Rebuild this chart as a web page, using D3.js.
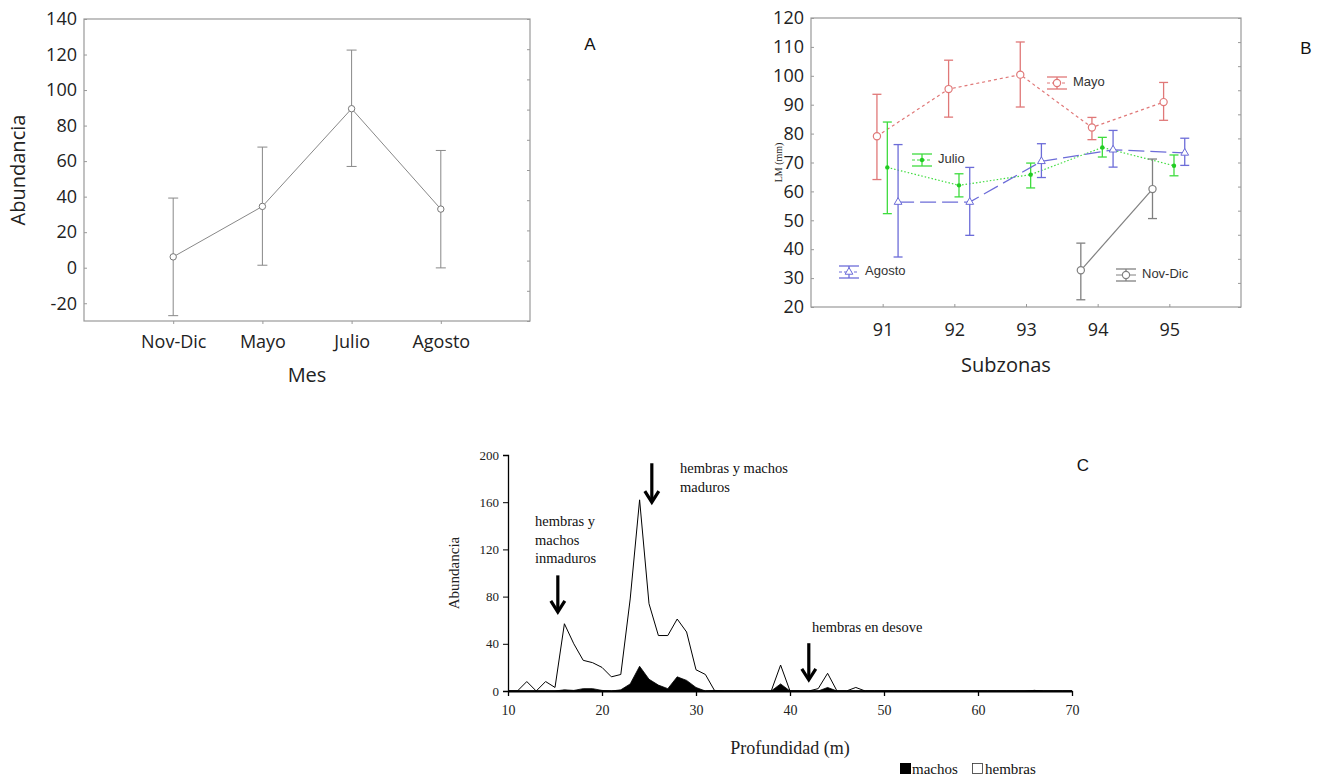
<!DOCTYPE html>
<html><head><meta charset="utf-8">
<script src="https://cdn.jsdelivr.net/npm/d3@7"></script>
<style>body{margin:0;background:#fff} svg{display:block}</style>
</head><body><svg id="c" width="1325" height="780"></svg>
<script>
// ---------- Panel A data ----------
const monthsA = ["Nov-Dic", "Mayo", "Julio", "Agosto"];
const meanA = [6.1, 34.5, 89.5, 33.0];
const lowA = [-27, 1.4, 57, -0.1];
const highA = [39.2, 67.9, 122.5, 66];
const ticksA = [-20, 0, 20, 40, 60, 80, 100, 120, 140];

// ---------- Panel B data ----------
const subzonas = [91, 92, 93, 94, 95];
const mayoMean = [79.1, 95.4, 100.4, 82.1, 90.9];
const mayoLow = [64.1, 85.7, 89.2, 77.9, 84.6];
const mayoHigh = [93.6, 105.4, 111.7, 85.6, 97.7];
const julioMean = [68.3, 62.1, 65.8, 75.2, 68.9];
const julioLow = [52.3, 58.1, 61.2, 71.9, 65.4];
const julioHigh = [84.0, 66.1, 69.8, 78.7, 72.6];
const agostoMean = [56.3, 56.3, 70.4, 74.4, 73.3];
const agostoLow = [37.3, 44.8, 64.8, 68.4, 69.0];
const agostoHigh = [76.2, 68.3, 76.5, 81.1, 78.4];
const novdicZonas = [94, 95];
const novdicMean = [32.7, 60.8];
const novdicLow = [22.5, 50.6];
const novdicHigh = [42.1, 71.2];
const ticksB = [20, 30, 40, 50, 60, 70, 80, 90, 100, 110, 120];

// ---------- Panel C data ----------
const depth = [10,11,12,13,14,15,16,17,18,19,20,21,22,23,24,25,26,27,28,29,30,31,32,33,34,35,36,37,38,39,40,41,42,43,44,45,46,47,48,49,50,51,52,53,54,55,56,57,58,59,60,61,62,63,64,65,66,67,68,69,70];
const hembras = [0,0,8,0,8,3,57,40,26,24,20,12,14,78,162,74,47,47,61,50,18,14,0,0,0,0,0,0,0,22,0,0,0,2,15,0,0,3,0,0,0,0,0,0,0,0,0,0,0,0,0,0,0,0,0,0,0.5,0,0,0,0];
const machos = [0,0,0,0,0,0,1,0.5,2,2,0.5,0,1,6,21,10,5,2,12,9,3,0,0.5,0,0,0,0,0,0,6,0,0,0,0,3,0,0,0,0,0,0,0,0,0,0,0,0,0,0,0,0,0,0,0,0,0,0.5,0,0,0,0];
const ticksCx = [10, 20, 30, 40, 50, 60, 70];
const ticksCy = [0, 40, 80, 120, 160, 200];

const svg = d3.select("#c");
const SANS = "'Open Sans', 'Noto Sans', sans-serif";
const ARIAL = "'Liberation Sans', Arial, sans-serif";
const SERIF = "'Liberation Serif', 'Times New Roman', serif";
const FRAME = "#999";

// ================= Panel A =================
(function () {
  const L = 84, R = 530, T = 19, B = 321;
  const x = d3.scaleLinear().domain([0, 5]).range([L, R]);
  const y = d3.scaleLinear().domain([-30, 140]).range([B, T]);
  const g = svg.append("g");
  g.append("rect").attr("x", L).attr("y", T).attr("width", R - L).attr("height", B - T)
    .attr("fill", "none").attr("stroke", FRAME).attr("stroke-width", 1.2);
  const ya = g.append("g").attr("transform", `translate(${L},0)`)
    .call(d3.axisLeft(y).tickValues(ticksA).tickSize(-3).tickPadding(7).tickFormat(d => String(d)));
  ya.select(".domain").remove();
  ya.selectAll("line").attr("stroke", FRAME);
  ya.selectAll("text").attr("font-family", SANS).attr("font-size", 18).attr("fill", "#222");
  const yr = d3.scaleLinear().domain([0, 10]).range([B, T]);
  const ra = g.append("g").attr("transform", `translate(${R},0)`)
    .call(d3.axisRight(yr).ticks(10).tickSize(-3).tickFormat(""));
  ra.select(".domain").remove();
  ra.selectAll("line").attr("stroke", FRAME);
  const xa = g.append("g").attr("transform", `translate(0,${B})`)
    .call(d3.axisBottom(x).tickValues([1, 2, 3, 4]).tickSize(3).tickPadding(11)
      .tickFormat(d => monthsA[d - 1]));
  xa.select(".domain").remove();
  xa.selectAll("line").attr("stroke", FRAME);
  xa.selectAll("text").attr("font-family", SANS).attr("font-size", 18).attr("fill", "#222");
  g.append("text").attr("transform", `translate(20,${(T + B) / 2}) rotate(-90)`)
    .attr("text-anchor", "middle").attr("dominant-baseline", "middle")
    .attr("font-family", SANS).attr("font-size", 20).attr("fill", "#222").text("Abundancia");
  g.append("text").attr("x", (L + R) / 2).attr("y", 377).attr("text-anchor", "middle")
    .attr("dominant-baseline", "middle")
    .attr("font-family", SANS).attr("font-size", 20).attr("fill", "#222").text("Mes");
  g.append("text").attr("x", 590).attr("y", 50).attr("text-anchor", "middle")
    .attr("font-family", ARIAL).attr("font-size", 17).attr("fill", "#111").text("A");
  const col = "#888";
  monthsA.forEach((m, i) => {
    const cx = x(i + 1);
    g.append("line").attr("x1", cx).attr("x2", cx).attr("y1", y(lowA[i])).attr("y2", y(highA[i]))
      .attr("stroke", col).attr("stroke-width", 1);
    [lowA[i], highA[i]].forEach(v => g.append("line").attr("x1", cx - 5).attr("x2", cx + 5)
      .attr("y1", y(v)).attr("y2", y(v)).attr("stroke", col).attr("stroke-width", 1));
  });
  g.append("path").datum(meanA)
    .attr("d", d3.line().x((d, i) => x(i + 1)).y(d => y(d)))
    .attr("fill", "none").attr("stroke", col).attr("stroke-width", 1);
  g.selectAll("circle.a").data(meanA).join("circle")
    .attr("cx", (d, i) => x(i + 1)).attr("cy", d => y(d)).attr("r", 3.2)
    .attr("fill", "#fff").attr("stroke", "#777").attr("stroke-width", 1);
})();

// ================= Panel B =================
(function () {
  const L = 811, R = 1241, T = 18, B = 307;
  const x = d3.scaleLinear().domain([90, 96]).range([L, R]);
  const y = d3.scaleLinear().domain([20, 120]).range([B, T]);
  const g = svg.append("g");
  g.append("rect").attr("x", L).attr("y", T).attr("width", R - L).attr("height", B - T)
    .attr("fill", "none").attr("stroke", FRAME).attr("stroke-width", 1.2);
  const ya = g.append("g").attr("transform", `translate(${L},0)`)
    .call(d3.axisLeft(y).tickValues(ticksB).tickSize(-3).tickPadding(7));
  ya.select(".domain").remove();
  ya.selectAll("line").attr("stroke", FRAME);
  ya.selectAll("text").attr("font-family", SANS).attr("font-size", 18).attr("fill", "#222");
  const yr = d3.scaleLinear().domain([0, 12]).range([B, T]);
  const ra = g.append("g").attr("transform", `translate(${R},0)`)
    .call(d3.axisRight(yr).ticks(12).tickSize(-3).tickFormat(""));
  ra.select(".domain").remove();
  ra.selectAll("line").attr("stroke", FRAME);
  const xa = g.append("g").attr("transform", `translate(0,${B})`)
    .call(d3.axisBottom(x).tickValues(subzonas).tickSize(-3).tickPadding(16).tickFormat(d3.format("d")));
  xa.select(".domain").remove();
  xa.selectAll("line").attr("stroke", FRAME);
  xa.selectAll("text").attr("font-family", SANS).attr("font-size", 18).attr("fill", "#222");
  g.append("text").attr("x", (L + R) / 2 - 20).attr("y", 372).attr("text-anchor", "middle")
    .attr("font-family", SANS).attr("font-size", 20).attr("fill", "#222").text("Subzonas");
  g.append("text").attr("transform", `translate(780,${(T + B) / 2}) rotate(-90)`)
    .attr("text-anchor", "middle").attr("dominant-baseline", "middle")
    .attr("font-family", SERIF).attr("font-size", 10).attr("fill", "#222").text("LM (mm)");
  g.append("text").attr("x", 1306).attr("y", 54).attr("text-anchor", "middle")
    .attr("font-family", ARIAL).attr("font-size", 17).attr("fill", "#111").text("B");

  const series = [
    { name: "Mayo", zon: subzonas, mean: mayoMean, low: mayoLow, high: mayoHigh, off: -0.08,
      color: "#e07878", dash: "3,3", marker: "circle", lx: 1057, ly: 83 },
    { name: "Julio", zon: subzonas, mean: julioMean, low: julioLow, high: julioHigh, off: 0.065,
      color: "#3fdc3f", dash: "1.5,2", marker: "dot", lx: 922, ly: 160 },
    { name: "Agosto", zon: subzonas, mean: agostoMean, low: agostoLow, high: agostoHigh, off: 0.215,
      color: "#6c6cd8", dash: "16,6", marker: "tri", lx: 849, ly: 272 },
    { name: "Nov-Dic", zon: novdicZonas, mean: novdicMean, low: novdicLow, high: novdicHigh, off: -0.235,
      color: "#808080", dash: null, marker: "circle", lx: 1126, ly: 275 }
  ];
  function drawMarker(sel, type, cx, cy, color) {
    if (type === "circle") {
      sel.append("circle").attr("cx", cx).attr("cy", cy).attr("r", 3.6)
        .attr("fill", "#fff").attr("stroke", color).attr("stroke-width", 1.2);
    } else if (type === "dot") {
      sel.append("circle").attr("cx", cx).attr("cy", cy).attr("r", 2.2).attr("fill", "#22cc22");
    } else {
      sel.append("path").attr("d", d3.symbol(d3.symbolTriangle, 26)())
        .attr("transform", `translate(${cx},${cy})`)
        .attr("fill", "#fff").attr("stroke", color).attr("stroke-width", 1);
    }
  }
  series.forEach(s => {
    const gs = g.append("g");
    s.zon.forEach((z, i) => {
      const cx = x(z + s.off);
      gs.append("line").attr("x1", cx).attr("x2", cx).attr("y1", y(s.low[i])).attr("y2", y(s.high[i]))
        .attr("stroke", s.color).attr("stroke-width", 1.3);
      [s.low[i], s.high[i]].forEach(v => gs.append("line").attr("x1", cx - 4.5).attr("x2", cx + 4.5)
        .attr("y1", y(v)).attr("y2", y(v)).attr("stroke", s.color).attr("stroke-width", 1.3));
    });
    gs.append("path").datum(s.mean)
      .attr("d", d3.line().x((d, i) => x(s.zon[i] + s.off)).y(d => y(d)))
      .attr("fill", "none").attr("stroke", s.color).attr("stroke-width", 1.2)
      .attr("stroke-dasharray", s.dash);
    s.mean.forEach((m, i) => drawMarker(gs, s.marker, x(s.zon[i] + s.off), y(m), s.color));
    const lg = g.append("g");
    lg.append("line").attr("x1", s.lx - 10).attr("x2", s.lx + 10).attr("y1", s.ly - 6).attr("y2", s.ly - 6)
      .attr("stroke", s.color).attr("stroke-width", 1.3);
    lg.append("line").attr("x1", s.lx - 10).attr("x2", s.lx + 10).attr("y1", s.ly + 6).attr("y2", s.ly + 6)
      .attr("stroke", s.color).attr("stroke-width", 1.3);
    lg.append("line").attr("x1", s.lx).attr("x2", s.lx).attr("y1", s.ly - 6).attr("y2", s.ly + 6)
      .attr("stroke", s.color).attr("stroke-width", 1.3);
    lg.append("line").attr("x1", s.lx - 10).attr("x2", s.lx + 10).attr("y1", s.ly).attr("y2", s.ly)
      .attr("stroke", s.color).attr("stroke-width", 1).attr("stroke-dasharray", s.dash ? "3,2" : null);
    drawMarker(lg, s.marker, s.lx, s.ly, s.color);
    lg.append("text").attr("x", s.lx + 16).attr("y", s.ly).attr("dominant-baseline", "middle")
      .attr("font-family", ARIAL).attr("font-size", 13).attr("fill", "#333").text(s.name);
  });
})();

// ================= Panel C =================
(function () {
  const x = d3.scaleLinear().domain([10, 70]).range([508, 1072]);
  const y = d3.scaleLinear().domain([0, 200]).range([691, 455]);
  const g = svg.append("g");
  const area = d3.area().x((d, i) => x(depth[i])).y0(y(0)).y1(d => y(d));
  g.append("path").datum(hembras).attr("d", area)
    .attr("fill", "#fff").attr("stroke", "#000").attr("stroke-width", 1);
  g.append("path").datum(machos).attr("d", area)
    .attr("fill", "#000").attr("stroke", "#000").attr("stroke-width", 0.8);
  const ya = g.append("g").attr("transform", `translate(${x(10)},0)`)
    .call(d3.axisLeft(y).tickValues(ticksCy).tickSize(5).tickPadding(4));
  ya.select(".domain").attr("stroke", "#000").attr("stroke-width", 1.3);
  ya.selectAll("text").attr("font-family", SERIF).attr("font-size", 13).attr("fill", "#222");
  const xa = g.append("g").attr("transform", `translate(0,${y(0)})`)
    .call(d3.axisBottom(x).tickValues(ticksCx).tickSize(5).tickSizeOuter(0).tickPadding(9));
  xa.select(".domain").attr("stroke", "#000").attr("stroke-width", 2);
  xa.selectAll("line").attr("stroke-width", 1.3);
  xa.selectAll("text").attr("font-family", SERIF).attr("font-size", 14).attr("fill", "#222");
  g.append("text").attr("transform", `translate(456,${(455 + 691) / 2}) rotate(-90)`)
    .attr("text-anchor", "middle").attr("dominant-baseline", "middle")
    .attr("font-family", SERIF).attr("font-size", 15).attr("fill", "#222").text("Abundancia");
  g.append("text").attr("x", 790).attr("y", 754).attr("text-anchor", "middle")
    .attr("font-family", SERIF).attr("font-size", 18).attr("fill", "#222").text("Profundidad (m)");
  g.append("text").attr("x", 1083).attr("y", 471).attr("text-anchor", "middle")
    .attr("font-family", ARIAL).attr("font-size", 17).attr("fill", "#111").text("C");
  const notes = [
    { lines: ["hembras y", "machos", "inmaduros"], x: 535, y: 526 },
    { lines: ["hembras y machos", "maduros"], x: 680, y: 473 },
    { lines: ["hembras en desove"], x: 812, y: 632 }
  ];
  notes.forEach(n => n.lines.forEach((t, k) => g.append("text").attr("x", n.x).attr("y", n.y + k * 18.5)
    .attr("font-family", SERIF).attr("font-size", 14.5).attr("fill", "#111").text(t)));
  const arrows = [{ d: 15.3, top: 98, bot: 67 }, { d: 25.3, top: 193, bot: 160 }, { d: 42, top: 40.5, bot: 9.5 }];
  arrows.forEach(a => {
    const ax = x(a.d), y1 = y(a.top), y2 = y(a.bot);
    g.append("line").attr("x1", ax).attr("x2", ax).attr("y1", y1).attr("y2", y2 - 2)
      .attr("stroke", "#000").attr("stroke-width", 3.2);
    g.append("path").attr("d", `M${ax - 7},${y2 - 11} L${ax},${y2} L${ax + 7},${y2 - 11}`)
      .attr("fill", "none").attr("stroke", "#000").attr("stroke-width", 3.2);
  });
  const lgx = 900, lgy = 774;
  g.append("rect").attr("x", lgx).attr("y", lgy - 11).attr("width", 11).attr("height", 11).attr("fill", "#000");
  g.append("text").attr("x", lgx + 12).attr("y", lgy).attr("font-family", SERIF).attr("font-size", 15)
    .attr("fill", "#111").text("machos");
  g.append("rect").attr("x", lgx + 72.5).attr("y", lgy - 10.5).attr("width", 10).attr("height", 10)
    .attr("fill", "#fff").attr("stroke", "#333").attr("stroke-width", 0.8);
  g.append("text").attr("x", lgx + 85).attr("y", lgy).attr("font-family", SERIF).attr("font-size", 15)
    .attr("fill", "#111").text("hembras");
})();
</script></body></html>
